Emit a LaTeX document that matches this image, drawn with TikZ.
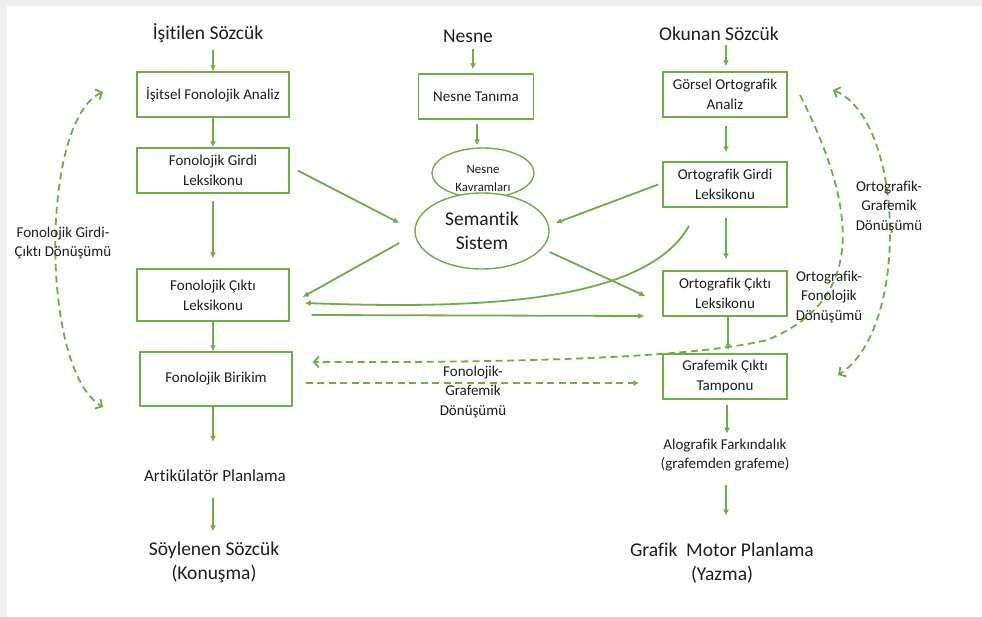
\documentclass[tikz,border=0pt]{standalone}
\usepackage{fontspec}
\setmainfont{Carlito}[Ligatures={NoCommon}]
\usetikzlibrary{arrows.meta,calc,shapes.geometric}
\definecolor{gr}{HTML}{70AD47}
\definecolor{txt}{HTML}{1E1E1E}
\definecolor{frame}{HTML}{EFEFEF}
\begin{document}
\begin{tikzpicture}[x=1pt,y=-1pt,
  box/.style={draw=gr, line width=1.4pt, align=center, inner sep=0pt, text=txt,
    font=\fontsize{15}{20}\selectfont},
  big/.style={align=center, inner sep=0pt, text=txt, font=\fontsize{19.5}{24}\selectfont},
  mid/.style={align=center, inner sep=0pt, text=txt, font=\fontsize{15}{19.5}\selectfont},
  arr/.style={draw=gr, line width=1.8pt, -{Latex[length=6pt,width=6pt]}},
  dsh/.style={draw=gr, line width=1.8pt, dash pattern=on 7pt off 4.5pt},
  barb/.tip={Straight Barb[length=5pt,width=11pt,line width=1.8pt]}
]
\useasboundingbox (0,0) rectangle (982,617);
\fill[white] (0,0) rectangle (982,617);
\fill[frame] (0,0) rectangle (982,6);
\fill[frame] (0,0) rectangle (7,617);

% ---- left column ----
\node[big] (t1) at (208,33) {İşitilen Sözcük};
\node[box, minimum width=152pt, minimum height=45pt] (b1) at (213,94.5) {İşitsel Fonolojik Analiz};
\node[box, minimum width=152pt, minimum height=45pt] (b2) at (213,170.5) {Fonolojik Girdi\\Leksikonu};
\node[box, minimum width=152pt, minimum height=52pt] (b3) at (213,295) {Fonolojik Çıktı\\Leksikonu};
\node[box, minimum width=152pt, minimum height=54pt] (b4) at (216,379) {Fonolojik Birikim};
\node[align=center, inner sep=0pt, text=txt, font=\fontsize{17}{21}\selectfont] (art) at (215,476) {Artikülatör Planlama};
\node[big] (soy) at (214,562) {Söylenen Sözcük\\(Konuşma)};

\draw[arr] ($(t1.south -| b1.north)+(0,7)$) -- (b1.north);
\draw[arr] (b1.south) -- (b2.north);
\draw[arr] ($(b2.south)+(0,7)$) -- ($(b3.north)+(0,-10)$);
\draw[arr] (b3.south) -- (b3.south |- b4.north);
\draw[arr] (b3.south |- b4.south) -- ($(b3.south |- art.north)+(0,-28)$);
\draw[arr] ($(b3.south |- art.south)+(0,16)$) -- ($(b3.south |- soy.north)+(0,-10)$);

% ---- middle column ----
\node[big] (t2) at (468,36) {Nesne};
\node[box, minimum width=115pt, minimum height=45pt] (nt) at (476,96.5) {Nesne Tanıma};
\node[ellipse, draw=gr, line width=1.4pt, minimum width=102pt, minimum height=50pt, inner sep=0pt] (nk) at (483,173) {};
\node[align=center, inner sep=0pt, text=txt, font=\fontsize{12.8}{18}\selectfont] (nkt) at (483,178) {Nesne\\Kavramları};
\node[ellipse, draw=gr, fill=white, line width=1.4pt, minimum width=134pt, minimum height=76pt, inner sep=0pt, align=center, text=txt, font=\fontsize{19.5}{24}\selectfont] (sem) at (482,231) {Semantik\\Sistem};

\draw[arr] ($(t2.south -| nt.north)+(-3,6)$) -- ($(nt.north)+(-3,-4)$);
\draw[arr] ($(nt.south)+(1,4)$) -- ($(nk.north)+(-6,-2)$);

% ---- right column ----
\node[big] (t3) at (719,34) {Okunan Sözcük};
\node[box, minimum width=124pt, minimum height=45pt] (g1) at (725,94.5) {Görsel Ortografik\\Analiz};
\node[box, minimum width=124pt, minimum height=45pt] (g2) at (725,184.5) {Ortografik Girdi\\Leksikonu};
\node[box, minimum width=124pt, minimum height=45pt] (g3) at (725,293.5) {Ortografik Çıktı\\Leksikonu};
\node[box, minimum width=124pt, minimum height=45pt] (g4) at (725,376.5) {Grafemik Çıktı\\Tamponu};
\node[mid] (alo) at (725,455) {Alografik Farkındalık\\(grafemden grafeme)};
\node[big] (gm) at (722,563) {Grafik~ Motor Planlama\\(Yazma)};

\draw[arr] ($(t3.south -| g1.north)+(1,4)$) -- ($(g1.north)+(1,-5)$);
\draw[arr] ($(g1.south)+(1,8)$) -- ($(g2.north)+(1,-9)$);
\draw[arr] ($(g2.south)+(1,10)$) -- ($(g3.north)+(1,-11)$);
\draw[arr] ($(g3.south)+(3,0)$) -- ($(g4.north)+(3,-3)$);
\draw[arr] ($(g4.south)+(2,5)$) -- ($(alo.north)+(2,-5)$);
\draw[arr] ($(alo.south)+(1,14)$) -- ($(alo.south |- gm.north)+(1,-27)$);

% ---- cross connections ----
\draw[arr] ($(b2.east)+(8,0)$) -- ($(sem.west)+(-15,-8)$);
\draw[arr] ($(sem.west)+(-15,12)$) -- ($(b3.east)+(13,2)$);
\draw[arr] ($(g2.west)+(-4,0)$) -- ($(sem.east)+(6,-8)$);
\draw[arr] ($(sem.east)+(0,21)$) -- ($(g3.west)+(-17,2.5)$);
\draw[arr] ($(g2.south)+(-36,18)$) .. controls (645,305) and (470,309) .. ($(b3.east)+(15,8)$);
\draw[arr] ($(b3.east)+(22,20)$) -- ($(g3.west)+(-18,22.5)$);

% ---- dashed routes ----
\coordinate (la) at (103,92);
\coordinate (lb) at (103,407);
\draw[dsh, barb-barb] (la) .. controls (40,120) and (40,370) .. (lb);
\node[mid] (lfg) at (63,243) {Fonolojik Girdi-\\Çıktı Dönüşümü};

\coordinate (ra) at (833,90);
\coordinate (rb) at (838,375);
\draw[dsh, barb-barb] (ra) .. controls (905,120) and (910,330) .. (rb);
\node[mid] (rog) at (889,207) {Ortografik-\\Grafemik\\Dönüşümü};

\coordinate (ofs) at (800,95);
\coordinate (ofm) at (767,340);
\draw[dsh, -barb] (ofs) .. controls (858,210) and (866,300) .. (ofm)
  .. controls (700,356) and (550,363) .. ($(b4.east)+(20,-17)$);
\node[mid] (rof) at (829,297) {Ortografik-\\Fonolojik\\Dönüşümü};

\draw[dsh, -{Latex[length=6pt,width=6pt]}] ($(b4.east)+(13,4)$) -- ($(g4.west)+(-23,6.5)$);
\node[mid] (fgd) at (473,392) {Fonolojik-\\Grafemik\\Dönüşümü};
\end{tikzpicture}
\end{document}
